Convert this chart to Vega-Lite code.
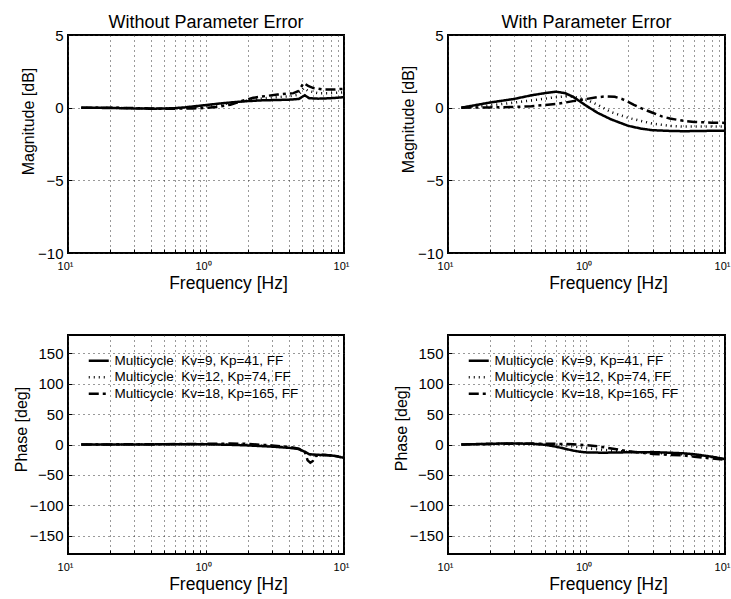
{
  "$schema": "https://vega.github.io/schema/vega-lite/v6.json",
  "padding": {"left": 12, "top": 13, "right": 0, "bottom": 0},
  "bounds": "flush",
  "columns": 2,
  "spacing": {"row": 82, "column": 104},
  "resolve": {"legend": {"strokeDash": "independent"}},
  "datasets": {
    "tl": [
      {"kv": "9", "f": 0.125, "v": 0}, {"kv": "9", "f": 0.2, "v": -0.02}, {"kv": "9", "f": 0.3, "v": -0.05}, {"kv": "9", "f": 0.4, "v": -0.07}, {"kv": "9", "f": 0.5, "v": -0.06}, {"kv": "9", "f": 0.6, "v": -0.03}, {"kv": "9", "f": 0.7, "v": 0.02}, {"kv": "9", "f": 0.8, "v": 0.08}, {"kv": "9", "f": 1, "v": 0.18}, {"kv": "9", "f": 1.3, "v": 0.3}, {"kv": "9", "f": 1.6, "v": 0.38}, {"kv": "9", "f": 2, "v": 0.45}, {"kv": "9", "f": 2.5, "v": 0.5}, {"kv": "9", "f": 3, "v": 0.52}, {"kv": "9", "f": 4, "v": 0.55}, {"kv": "9", "f": 4.7, "v": 0.6}, {"kv": "9", "f": 5.2, "v": 0.85}, {"kv": "9", "f": 5.6, "v": 0.65}, {"kv": "9", "f": 6.5, "v": 0.62}, {"kv": "9", "f": 8, "v": 0.65}, {"kv": "9", "f": 10, "v": 0.72},
      {"kv": "12", "f": 0.125, "v": 0}, {"kv": "12", "f": 0.2, "v": -0.01}, {"kv": "12", "f": 0.3, "v": -0.04}, {"kv": "12", "f": 0.4, "v": -0.06}, {"kv": "12", "f": 0.5, "v": -0.06}, {"kv": "12", "f": 0.6, "v": -0.04}, {"kv": "12", "f": 0.8, "v": 0.02}, {"kv": "12", "f": 1, "v": 0.08}, {"kv": "12", "f": 1.3, "v": 0.22}, {"kv": "12", "f": 1.6, "v": 0.35}, {"kv": "12", "f": 2, "v": 0.5}, {"kv": "12", "f": 2.5, "v": 0.62}, {"kv": "12", "f": 3, "v": 0.7}, {"kv": "12", "f": 4, "v": 0.78}, {"kv": "12", "f": 4.7, "v": 0.9}, {"kv": "12", "f": 5.1, "v": 1.35}, {"kv": "12", "f": 5.5, "v": 1.15}, {"kv": "12", "f": 6.5, "v": 1.0}, {"kv": "12", "f": 8, "v": 1.0}, {"kv": "12", "f": 10, "v": 1.05},
      {"kv": "18", "f": 0.125, "v": 0}, {"kv": "18", "f": 0.2, "v": 0}, {"kv": "18", "f": 0.3, "v": -0.03}, {"kv": "18", "f": 0.4, "v": -0.06}, {"kv": "18", "f": 0.5, "v": -0.08}, {"kv": "18", "f": 0.6, "v": -0.07}, {"kv": "18", "f": 0.8, "v": -0.05}, {"kv": "18", "f": 1, "v": -0.02}, {"kv": "18", "f": 1.2, "v": 0.05}, {"kv": "18", "f": 1.5, "v": 0.2}, {"kv": "18", "f": 1.8, "v": 0.45}, {"kv": "18", "f": 2.2, "v": 0.68}, {"kv": "18", "f": 2.7, "v": 0.8}, {"kv": "18", "f": 3.3, "v": 0.9}, {"kv": "18", "f": 4.3, "v": 1.0}, {"kv": "18", "f": 4.7, "v": 1.15}, {"kv": "18", "f": 5.1, "v": 1.7}, {"kv": "18", "f": 5.5, "v": 1.5}, {"kv": "18", "f": 6, "v": 1.35}, {"kv": "18", "f": 7, "v": 1.25}, {"kv": "18", "f": 8.5, "v": 1.25}, {"kv": "18", "f": 10, "v": 1.3}
    ],
    "tr": [
      {"kv": "9", "f": 0.125, "v": 0}, {"kv": "9", "f": 0.2, "v": 0.35}, {"kv": "9", "f": 0.3, "v": 0.6}, {"kv": "9", "f": 0.4, "v": 0.85}, {"kv": "9", "f": 0.5, "v": 1.0}, {"kv": "9", "f": 0.6, "v": 1.1}, {"kv": "9", "f": 0.7, "v": 1.0}, {"kv": "9", "f": 0.8, "v": 0.75}, {"kv": "9", "f": 0.9, "v": 0.42}, {"kv": "9", "f": 1, "v": 0.12}, {"kv": "9", "f": 1.2, "v": -0.35}, {"kv": "9", "f": 1.5, "v": -0.8}, {"kv": "9", "f": 2, "v": -1.25}, {"kv": "9", "f": 2.5, "v": -1.45}, {"kv": "9", "f": 3, "v": -1.55}, {"kv": "9", "f": 4, "v": -1.6}, {"kv": "9", "f": 5, "v": -1.62}, {"kv": "9", "f": 7, "v": -1.6}, {"kv": "9", "f": 10, "v": -1.58},
      {"kv": "12", "f": 0.125, "v": 0}, {"kv": "12", "f": 0.2, "v": 0.15}, {"kv": "12", "f": 0.3, "v": 0.35}, {"kv": "12", "f": 0.4, "v": 0.5}, {"kv": "12", "f": 0.5, "v": 0.62}, {"kv": "12", "f": 0.6, "v": 0.72}, {"kv": "12", "f": 0.7, "v": 0.78}, {"kv": "12", "f": 0.8, "v": 0.75}, {"kv": "12", "f": 1, "v": 0.55}, {"kv": "12", "f": 1.2, "v": 0.2}, {"kv": "12", "f": 1.5, "v": -0.3}, {"kv": "12", "f": 2, "v": -0.7}, {"kv": "12", "f": 3, "v": -1.1}, {"kv": "12", "f": 4, "v": -1.25}, {"kv": "12", "f": 5, "v": -1.3}, {"kv": "12", "f": 7, "v": -1.3}, {"kv": "12", "f": 10, "v": -1.3},
      {"kv": "18", "f": 0.125, "v": 0}, {"kv": "18", "f": 0.2, "v": 0.02}, {"kv": "18", "f": 0.3, "v": 0.05}, {"kv": "18", "f": 0.4, "v": 0.1}, {"kv": "18", "f": 0.5, "v": 0.18}, {"kv": "18", "f": 0.6, "v": 0.25}, {"kv": "18", "f": 0.7, "v": 0.35}, {"kv": "18", "f": 0.8, "v": 0.45}, {"kv": "18", "f": 1, "v": 0.6}, {"kv": "18", "f": 1.2, "v": 0.72}, {"kv": "18", "f": 1.4, "v": 0.78}, {"kv": "18", "f": 1.6, "v": 0.75}, {"kv": "18", "f": 1.8, "v": 0.6}, {"kv": "18", "f": 2, "v": 0.4}, {"kv": "18", "f": 2.2, "v": 0.2}, {"kv": "18", "f": 2.5, "v": -0.05}, {"kv": "18", "f": 3, "v": -0.35}, {"kv": "18", "f": 3.5, "v": -0.6}, {"kv": "18", "f": 4, "v": -0.75}, {"kv": "18", "f": 5, "v": -0.9}, {"kv": "18", "f": 6, "v": -0.98}, {"kv": "18", "f": 8, "v": -1.03}, {"kv": "18", "f": 10, "v": -1.05}
    ],
    "bl": [
      {"kv": "9", "f": 0.125, "v": 0}, {"kv": "9", "f": 0.3, "v": 0}, {"kv": "9", "f": 0.5, "v": 0.3}, {"kv": "9", "f": 0.8, "v": 0.5}, {"kv": "9", "f": 1, "v": 0.3}, {"kv": "9", "f": 1.5, "v": -0.5}, {"kv": "9", "f": 2, "v": -1.5}, {"kv": "9", "f": 3, "v": -3.5}, {"kv": "9", "f": 4, "v": -5.5}, {"kv": "9", "f": 4.7, "v": -7.5}, {"kv": "9", "f": 5.2, "v": -12}, {"kv": "9", "f": 5.6, "v": -16}, {"kv": "9", "f": 6.5, "v": -17}, {"kv": "9", "f": 7.5, "v": -17.5}, {"kv": "9", "f": 8.5, "v": -18.5}, {"kv": "9", "f": 10, "v": -22},
      {"kv": "12", "f": 0.125, "v": 0}, {"kv": "12", "f": 0.5, "v": 0.4}, {"kv": "12", "f": 1, "v": 0.6}, {"kv": "12", "f": 1.5, "v": 0.5}, {"kv": "12", "f": 2, "v": -0.5}, {"kv": "12", "f": 3, "v": -2.5}, {"kv": "12", "f": 4, "v": -5}, {"kv": "12", "f": 4.7, "v": -7.5}, {"kv": "12", "f": 5.2, "v": -13}, {"kv": "12", "f": 5.6, "v": -17}, {"kv": "12", "f": 6.5, "v": -17.5}, {"kv": "12", "f": 8, "v": -18}, {"kv": "12", "f": 10, "v": -21.5},
      {"kv": "18", "f": 0.125, "v": 0}, {"kv": "18", "f": 0.5, "v": 0.5}, {"kv": "18", "f": 1, "v": 1}, {"kv": "18", "f": 1.5, "v": 1.5}, {"kv": "18", "f": 2, "v": 1}, {"kv": "18", "f": 3, "v": -1.5}, {"kv": "18", "f": 4, "v": -4}, {"kv": "18", "f": 4.7, "v": -7}, {"kv": "18", "f": 5.2, "v": -12}, {"kv": "18", "f": 5.45, "v": -26}, {"kv": "18", "f": 5.7, "v": -30}, {"kv": "18", "f": 5.95, "v": -27}, {"kv": "18", "f": 6.2, "v": -19}, {"kv": "18", "f": 7, "v": -17}, {"kv": "18", "f": 8.5, "v": -18.5}, {"kv": "18", "f": 10, "v": -21}
    ],
    "br": [
      {"kv": "9", "f": 0.125, "v": 0}, {"kv": "9", "f": 0.2, "v": 1.2}, {"kv": "9", "f": 0.25, "v": 1.6}, {"kv": "9", "f": 0.3, "v": 1.7}, {"kv": "9", "f": 0.4, "v": 1.2}, {"kv": "9", "f": 0.5, "v": -0.5}, {"kv": "9", "f": 0.6, "v": -3.5}, {"kv": "9", "f": 0.7, "v": -7}, {"kv": "9", "f": 0.8, "v": -10}, {"kv": "9", "f": 0.9, "v": -12}, {"kv": "9", "f": 1, "v": -13}, {"kv": "9", "f": 1.3, "v": -13.5}, {"kv": "9", "f": 1.6, "v": -13.2}, {"kv": "9", "f": 2, "v": -12.8}, {"kv": "9", "f": 3, "v": -12.5}, {"kv": "9", "f": 4, "v": -13.5}, {"kv": "9", "f": 5, "v": -14.5}, {"kv": "9", "f": 6, "v": -16}, {"kv": "9", "f": 8, "v": -20}, {"kv": "9", "f": 10, "v": -24},
      {"kv": "12", "f": 0.125, "v": 0}, {"kv": "12", "f": 0.25, "v": 1.5}, {"kv": "12", "f": 0.4, "v": 1.3}, {"kv": "12", "f": 0.6, "v": 0}, {"kv": "12", "f": 0.8, "v": -3}, {"kv": "12", "f": 1, "v": -6}, {"kv": "12", "f": 1.5, "v": -10}, {"kv": "12", "f": 2, "v": -12}, {"kv": "12", "f": 3, "v": -13.5}, {"kv": "12", "f": 4, "v": -15}, {"kv": "12", "f": 5, "v": -16}, {"kv": "12", "f": 7, "v": -19}, {"kv": "12", "f": 10, "v": -24},
      {"kv": "18", "f": 0.125, "v": 0}, {"kv": "18", "f": 0.25, "v": 1.2}, {"kv": "18", "f": 0.4, "v": 1.5}, {"kv": "18", "f": 0.6, "v": 1.2}, {"kv": "18", "f": 0.8, "v": 0.3}, {"kv": "18", "f": 1, "v": -1}, {"kv": "18", "f": 1.3, "v": -4}, {"kv": "18", "f": 1.6, "v": -7.5}, {"kv": "18", "f": 2, "v": -11}, {"kv": "18", "f": 2.5, "v": -13.5}, {"kv": "18", "f": 3, "v": -15.5}, {"kv": "18", "f": 4, "v": -17}, {"kv": "18", "f": 5, "v": -18}, {"kv": "18", "f": 6, "v": -20}, {"kv": "18", "f": 8, "v": -23}, {"kv": "18", "f": 10, "v": -25}
    ]
  },
  "concat": [
    {
      "width": 276, "height": 218,
      "title": {"text": "Without Parameter Error"},
      "data": {"name": "tl"},
      "mark": {"type": "line", "strokeWidth": 2.5, "color": "black", "clip": true},
      "encoding": {
        "x": {"field": "f", "type": "quantitative", "scale": {"type": "log", "domain": [0.1, 10]},
          "axis": {"title": "Frequency [Hz]", "values": [0.1, 0.2, 0.3, 0.4, 0.5, 0.6, 0.7, 0.8, 0.9, 1, 2, 3, 4, 5, 6, 7, 8, 9, 10],
            "labelExpr": "datum.value == 1 ? '10⁰' : ((datum.value == 0.1 || datum.value == 10) ? '10¹' : '')",
            "titleX": 160, "titleY": 35, "titleBaseline": "alphabetic"}},
        "y": {"field": "v", "type": "quantitative", "scale": {"domain": [-10, 5]},
          "axis": {"title": "Magnitude [dB]", "values": [-10, -5, 0, 5], "titleX": -35, "titleY": 86, "titleBaseline": "alphabetic"}},
        "strokeDash": {"field": "kv", "type": "nominal", "scale": {"domain": ["9", "12", "18"], "range": [[1, 0], [1, 4], [10, 4, 3, 4]]}, "legend": null}
      }
    },
    {
      "width": 277, "height": 218,
      "title": {"text": "With Parameter Error"},
      "data": {"name": "tr"},
      "mark": {"type": "line", "strokeWidth": 2.5, "color": "black", "clip": true},
      "encoding": {
        "x": {"field": "f", "type": "quantitative", "scale": {"type": "log", "domain": [0.1, 10]},
          "axis": {"title": "Frequency [Hz]", "values": [0.1, 0.2, 0.3, 0.4, 0.5, 0.6, 0.7, 0.8, 0.9, 1, 2, 3, 4, 5, 6, 7, 8, 9, 10],
            "labelExpr": "datum.value == 1 ? '10⁰' : ((datum.value == 0.1 || datum.value == 10) ? '10¹' : '')",
            "titleX": 160, "titleY": 35, "titleBaseline": "alphabetic"}},
        "y": {"field": "v", "type": "quantitative", "scale": {"domain": [-10, 5]},
          "axis": {"title": "Magnitude [dB]", "values": [-10, -5, 0, 5], "titleX": -35, "titleY": 84, "titleBaseline": "alphabetic"}},
        "strokeDash": {"field": "kv", "type": "nominal", "scale": {"domain": ["9", "12", "18"], "range": [[1, 0], [1, 4], [10, 4, 3, 4]]}, "legend": null}
      }
    },
    {
      "width": 276, "height": 219,
      "data": {"name": "bl"},
      "mark": {"type": "line", "strokeWidth": 2.5, "color": "black", "clip": true},
      "encoding": {
        "x": {"field": "f", "type": "quantitative", "scale": {"type": "log", "domain": [0.1, 10]},
          "axis": {"title": "Frequency [Hz]", "values": [0.1, 0.2, 0.3, 0.4, 0.5, 0.6, 0.7, 0.8, 0.9, 1, 2, 3, 4, 5, 6, 7, 8, 9, 10],
            "labelExpr": "datum.value == 1 ? '10⁰' : ((datum.value == 0.1 || datum.value == 10) ? '10¹' : '')",
            "titleX": 160, "titleY": 35, "titleBaseline": "alphabetic"}},
        "y": {"field": "v", "type": "quantitative", "scale": {"domain": [-180, 180]},
          "axis": {"title": "Phase [deg]", "values": [-150, -100, -50, 0, 50, 100, 150], "titleX": -42, "titleY": 94, "titleBaseline": "alphabetic"}},
        "strokeDash": {"field": "kv", "type": "nominal", "scale": {"domain": ["9", "12", "18"], "range": [[1, 0], [1, 4], [10, 4, 3, 4]]},
          "legend": {"labelExpr": "datum.label == '9' ? 'Multicycle\u00a0 Kv=9, Kp=41, FF' : (datum.label == '12' ? 'Multicycle\u00a0 Kv=12, Kp=74, FF' : 'Multicycle\u00a0 Kv=18, Kp=165, FF')"}}
      }
    },
    {
      "width": 277, "height": 219,
      "data": {"name": "br"},
      "mark": {"type": "line", "strokeWidth": 2.5, "color": "black", "clip": true},
      "encoding": {
        "x": {"field": "f", "type": "quantitative", "scale": {"type": "log", "domain": [0.1, 10]},
          "axis": {"title": "Frequency [Hz]", "values": [0.1, 0.2, 0.3, 0.4, 0.5, 0.6, 0.7, 0.8, 0.9, 1, 2, 3, 4, 5, 6, 7, 8, 9, 10],
            "labelExpr": "datum.value == 1 ? '10⁰' : ((datum.value == 0.1 || datum.value == 10) ? '10¹' : '')",
            "titleX": 160, "titleY": 35, "titleBaseline": "alphabetic"}},
        "y": {"field": "v", "type": "quantitative", "scale": {"domain": [-180, 180]},
          "axis": {"title": "Phase [deg]", "values": [-150, -100, -50, 0, 50, 100, 150], "titleX": -42, "titleY": 93, "titleBaseline": "alphabetic"}},
        "strokeDash": {"field": "kv", "type": "nominal", "scale": {"domain": ["9", "12", "18"], "range": [[1, 0], [1, 4], [10, 4, 3, 4]]},
          "legend": {"labelExpr": "datum.label == '9' ? 'Multicycle\u00a0 Kv=9, Kp=41, FF' : (datum.label == '12' ? 'Multicycle\u00a0 Kv=12, Kp=74, FF' : 'Multicycle\u00a0 Kv=18, Kp=165, FF')"}}
      }
    }
  ],
  "config": {
    "font": "Liberation Sans",
    "background": "white",
    "view": {"stroke": "black", "strokeWidth": 2},
    "axis": {
      "domain": false, "ticks": true, "tickSize": -4, "tickColor": "black", "tickWidth": 1,
      "grid": true, "gridColor": "#333333", "gridDash": [1, 4], "gridWidth": 1, "gridOpacity": 1,
      "labelColor": "black", "labelFont": "Liberation Sans", "labelFontSize": 15, "labelPadding": 9,
      "titleColor": "black", "titleFont": "Liberation Sans", "titleFontWeight": "normal", "titleFontSize": 16
    },
    "axisX": {"labelFontSize": 11, "labelPadding": 11, "labelFlush": false, "labelOverlap": false, "labelOffset": -3, "titleFontSize": 17.5},
    "axisY": {"labelOverlap": false},
    "title": {"fontSize": 18, "fontWeight": "normal", "font": "Liberation Sans", "color": "black", "offset": -4, "anchor": "middle"},
    "legend": {
      "orient": "top-left", "offset": 19, "title": null, "padding": 0,
      "symbolType": "M-1,0H3", "symbolSize": 100, "symbolStrokeWidth": 2.5, "symbolStrokeColor": "black", "symbolFillColor": "transparent",
      "labelFont": "Liberation Sans", "labelFontSize": 13.5, "labelColor": "black", "labelOffset": 14, "labelLimit": 0, "rowPadding": 1.5
    }
  }
}
